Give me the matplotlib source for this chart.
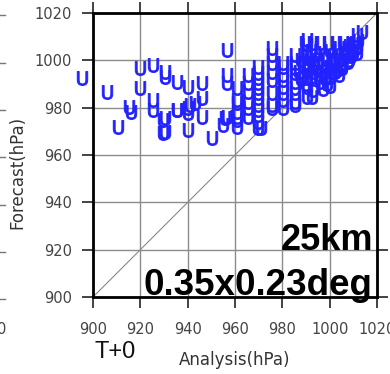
"""
Forecast vs analysis central pressure scatter (T+0, 25km)
"""

import matplotlib.pyplot as plt
import matplotlib.transforms as mtransforms
import numpy as np

# Analysis / forecast pressure pairs (hPa)
analysis = [
    895.4, 905.9, 910.5, 919.8, 919.8, 915.0, 916.0, 925.3, 930.4, 930.4,
    935.4, 940.0, 925.3, 925.3, 929.5, 929.5, 935.4, 940.0, 940.0, 940.0,
    946.0, 946.0, 946.0, 941.0, 943.0, 950.3, 955.8, 955.0, 956.6, 956.6,
    956.6, 956.6, 930.4, 930.4, 935.5,
    960.8, 960.8, 960.8, 960.8, 960.8, 960.8, 960.8,
    965.5, 965.5, 965.5, 965.5, 965.5, 965.5,
    969.7, 969.7, 969.7, 969.7, 969.7, 969.7, 969.7, 969.7, 969.7, 969.7,
    969.7, 969.7, 971.0,
    975.6, 975.6, 975.6, 975.6, 975.6, 975.6, 975.6, 975.6,
    980.3, 980.3, 980.3, 980.3, 980.3, 980.3, 980.3, 980.3,
    985.3, 985.3, 985.3, 985.3, 985.3, 985.3, 985.3, 985.3, 985.3,
    990.4, 990.4, 990.4, 990.4, 990.4, 990.4, 990.4, 990.4,
    993.0, 992.5,
    992.0, 994.0, 996.0, 998.0, 1000.0, 1001.0, 1003.0, 1004.0, 1006.0, 1007.0,
    1008.0, 1009.0, 1010.0, 1011.0, 1012.0,
    993.0, 995.0, 997.0, 999.0, 1000.0, 1002.0, 1004.0, 1005.0, 1006.0, 1008.0,
    1009.0, 1010.0,
    991.0, 993.0, 995.0, 996.0, 998.0, 1000.0, 1001.0, 1003.0, 1004.0, 1005.0,
    994.0, 996.0, 998.0, 999.0, 1000.0, 997.0,
    989.6, 993.0, 995.9, 999.3, 1002.7, 1005.6,
    1011.5, 1013.6, 1010.7, 1011.4, 1007.7, 1011.5, 1002.2,
    990.0, 991.0, 992.0, 988.0, 989.0, 987.0, 988.0, 990.0, 992.0,
]
forecast = [
    992.4, 986.5, 971.7, 996.6, 988.2, 980.2, 978.0, 997.9, 995.0, 992.8,
    990.7, 988.6, 983.1, 979.0, 974.7, 969.2, 979.0, 979.7, 977.6, 970.5,
    990.3, 984.0, 976.0, 981.0, 982.0, 967.2, 975.6, 972.6, 1004.4, 993.8,
    990.3, 976.0, 975.6, 969.7, 979.0,
    988.3, 983.2, 982.0, 978.2, 976.0, 974.8, 971.8,
    993.8, 990.4, 986.6, 982.4, 979.8, 976.0,
    997.2, 994.6, 992.5, 990.4, 988.3, 986.2, 984.1, 981.1, 979.0, 976.9,
    973.9, 971.4, 971.4,
    1005.2, 1002.2, 998.9, 995.0, 991.7, 986.2, 981.1, 979.8,
    998.9, 997.2, 993.8, 991.7, 988.7, 986.2, 983.2, 979.8,
    1002.2, 998.9, 996.7, 994.6, 990.8, 988.3, 986.2, 982.4, 981.1,
    1008.6, 1006.5, 1001.0, 998.0, 995.0, 992.5, 988.7, 984.5,
    987.5, 984.5,
    1004.0, 1003.0, 1005.0, 1002.0, 1004.0, 1001.0, 1003.0, 1005.0, 1004.0, 1002.0,
    1006.0, 1004.0, 1007.0, 1005.0, 1008.0,
    999.0, 1000.0, 998.0, 1000.0, 997.0, 999.0, 1000.0, 998.0, 1001.0, 1000.0,
    1002.0, 1003.0,
    996.0, 995.0, 996.0, 994.0, 995.0, 993.0, 995.0, 996.0, 994.0, 996.7,
    992.0, 991.0, 992.5, 990.0, 989.0, 988.0,
    1007.3, 1007.3, 1007.3, 1007.3, 1007.3, 1007.3,
    1010.7, 1012.0, 1007.3, 1005.5, 999.3, 1003.0, 995.0,
    1002.0, 999.0, 1001.0, 1000.0, 997.0, 995.0, 992.0, 990.0, 993.0,
]
ticks = [900, 920, 940, 960, 980, 1000, 1020]

fig = plt.figure(figsize=(3.9, 3.74), dpi=100)
ax = fig.add_axes([0.2385, 0.2059, 0.7282, 0.7594])

ax.set_xlim(900, 1020)
ax.set_ylim(900, 1020)
ax.set_xticks(ticks)
ax.set_yticks(ticks)
ax.grid(True, color='#8c8c8c', linewidth=1.0)
ax.set_axisbelow(True)

# 1:1 line
ax.plot([900, 1020], [900, 1020], color='#888888', linewidth=0.8, zorder=2)

ax.scatter(analysis, forecast, marker=r'$\mathsf{U}$', s=100, color='#2222ff',
           linewidths=0.7, clip_on=False, zorder=3)

for side in ['left', 'right', 'top', 'bottom']:
    ax.spines[side].set_linewidth(2.0)
    ax.spines[side].set_color('black')

ax.tick_params(axis='both', which='both', direction='out', length=8, width=1.2,
               top=True, right=True, color='#222222', labelsize=10.5,
               labelcolor='#444444')
ax.tick_params(axis='x', pad=10)
ax.tick_params(axis='y', pad=7)

ax.set_xlabel('Analysis(hPa)', fontsize=12, color='#333333')
ax.set_ylabel('Forecast(hPa)', fontsize=12, color='#333333')
ax.yaxis.set_label_coords(-0.235, 0.44)
ax.xaxis.set_label_coords(0.5, -0.19)

fig.text(0.295, 0.058, 'T+0', fontsize=17, color='#111111', ha='center',
         va='center', family='Liberation Sans')

ax.text(0.985, 0.165, '25km', transform=ax.transAxes, fontsize=26,
        fontweight='bold', ha='right', va='baseline', family='Liberation Sans')
ax.text(0.985, 0.008, '0.35x0.23deg', transform=ax.transAxes, fontsize=26.5,
        fontweight='bold', ha='right', va='baseline', family='Liberation Sans')

# bits of the neighbouring panel cut by the left edge
trans = mtransforms.blended_transform_factory(fig.transFigure, ax.transData)
for t in ticks:
    ax.plot([0.0, 0.013], [t - 1, t - 1], transform=trans, color='#777777',
            linewidth=1.0, clip_on=False)
fig.text(0.018, 0.118, '1020', fontsize=10.5, color='#444444', ha='right',
         va='center')

fig.savefig('out.png', dpi=100)
